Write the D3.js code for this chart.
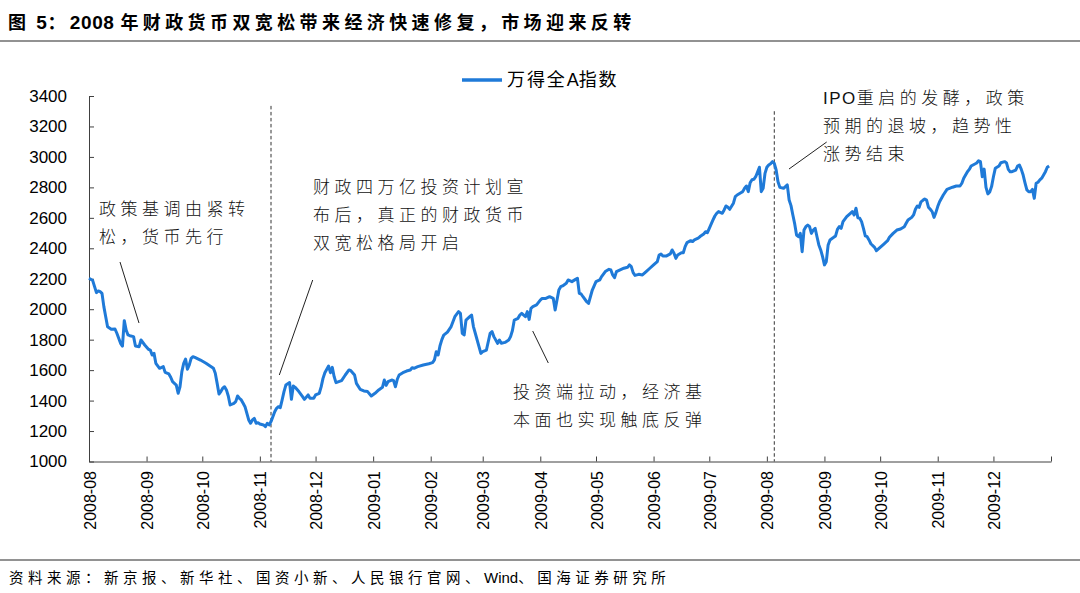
<!DOCTYPE html>
<html><head><meta charset="utf-8">
<script src="https://cdn.jsdelivr.net/npm/d3@7/dist/d3.min.js"></script>
<style>body{margin:0;background:#fff;} svg{display:block}</style>
</head><body>
<svg id="c" width="1080" height="593"></svg>
<script>
const titleText = "图 5：2008 年财政货币双宽松带来经济快速修复，市场迎来反转";
const sourceText = "资料来源：新京报、新华社、国资小新、人民银行官网、Wind、国海证券研究所";
const seriesName = "万得全A指数";
const yTicks = [1000,1200,1400,1600,1800,2000,2200,2400,2600,2800,3000,3200,3400];
const xTickLabels = ["2008-08","2008-09","2008-10","2008-11","2008-12","2009-01","2009-02","2009-03","2009-04","2009-05","2009-06","2009-07","2009-08","2009-09","2009-10","2009-11","2009-12"];
const eventDates = ["2008-11-07","2009-08-05"];
const notes = [
  ["政策基调由紧转","松，货币先行"],
  ["财政四万亿投资计划宣","布后，真正的财政货币","双宽松格局开启"],
  ["投资端拉动，经济基","本面也实现触底反弹"],
  ["IPO重启的发酵，政策","预期的退坡，趋势性","涨势结束"]
];
const dates = [
"2008-08-01","2008-08-03","2008-08-04","2008-08-05","2008-08-06","2008-08-07","2008-08-08","2008-08-09","2008-08-10","2008-08-11","2008-08-13","2008-08-15","2008-08-16","2008-08-18","2008-08-19","2008-08-20","2008-08-21","2008-08-22","2008-08-23","2008-08-25","2008-08-26","2008-08-28","2008-08-29","2008-08-31",
"2008-09-02","2008-09-03","2008-09-04","2008-09-05","2008-09-06","2008-09-08","2008-09-10","2008-09-11","2008-09-13","2008-09-14","2008-09-15","2008-09-17","2008-09-18","2008-09-19","2008-09-20","2008-09-21","2008-09-22","2008-09-23","2008-09-24","2008-09-25","2008-09-26","2008-09-27","2008-09-30",
"2008-10-03","2008-10-07","2008-10-08","2008-10-09","2008-10-10","2008-10-11","2008-10-12","2008-10-13","2008-10-14","2008-10-15","2008-10-16","2008-10-18","2008-10-19","2008-10-20","2008-10-21","2008-10-22","2008-10-23","2008-10-24","2008-10-26","2008-10-27","2008-10-28","2008-10-29","2008-10-30","2008-10-31",
"2008-11-01","2008-11-03","2008-11-04","2008-11-05","2008-11-06","2008-11-07","2008-11-08","2008-11-09","2008-11-10","2008-11-11","2008-11-12","2008-11-13","2008-11-14","2008-11-15","2008-11-17","2008-11-18","2008-11-19","2008-11-20","2008-11-22","2008-11-24","2008-11-25","2008-11-27","2008-11-28","2008-11-30",
"2008-12-01","2008-12-03","2008-12-04","2008-12-05","2008-12-06","2008-12-08","2008-12-09","2008-12-10","2008-12-11","2008-12-12","2008-12-15","2008-12-17","2008-12-19","2008-12-20","2008-12-22","2008-12-23","2008-12-25","2008-12-27","2008-12-29","2008-12-31",
"2009-01-02","2009-01-04","2009-01-06","2009-01-07","2009-01-08","2009-01-09","2009-01-11","2009-01-12","2009-01-13","2009-01-14","2009-01-15","2009-01-17","2009-01-19","2009-01-21","2009-01-22","2009-01-23","2009-01-25","2009-01-28","2009-01-31",
"2009-02-02","2009-02-03","2009-02-04","2009-02-05","2009-02-06","2009-02-07","2009-02-08","2009-02-10","2009-02-12","2009-02-14","2009-02-16","2009-02-17","2009-02-18","2009-02-19","2009-02-20","2009-02-22","2009-02-23","2009-02-24","2009-02-25","2009-02-27","2009-02-28",
"2009-03-01","2009-03-03","2009-03-05","2009-03-06","2009-03-07","2009-03-09","2009-03-10","2009-03-11","2009-03-13","2009-03-15","2009-03-16","2009-03-17","2009-03-18","2009-03-20","2009-03-21","2009-03-22","2009-03-24","2009-03-25","2009-03-26","2009-03-27","2009-03-28","2009-03-30",
"2009-04-01","2009-04-02","2009-04-04","2009-04-06","2009-04-08","2009-04-09","2009-04-10","2009-04-11","2009-04-12","2009-04-13","2009-04-15","2009-04-16","2009-04-18","2009-04-20","2009-04-21","2009-04-22","2009-04-23","2009-04-24","2009-04-26","2009-04-27","2009-04-29","2009-04-30",
"2009-05-01","2009-05-03","2009-05-04","2009-05-06","2009-05-08","2009-05-09","2009-05-10","2009-05-11","2009-05-12","2009-05-14","2009-05-16","2009-05-18","2009-05-19","2009-05-20","2009-05-21","2009-05-22","2009-05-24","2009-05-26","2009-05-28","2009-05-30",
"2009-06-01","2009-06-03","2009-06-04","2009-06-05","2009-06-06","2009-06-08","2009-06-10","2009-06-11","2009-06-12","2009-06-13","2009-06-14","2009-06-16","2009-06-17","2009-06-18","2009-06-19","2009-06-21","2009-06-22","2009-06-23","2009-06-25","2009-06-26","2009-06-28","2009-06-29","2009-06-30",
"2009-07-01","2009-07-03","2009-07-04","2009-07-05","2009-07-06","2009-07-08","2009-07-09","2009-07-10","2009-07-11","2009-07-12","2009-07-14","2009-07-15","2009-07-16","2009-07-18","2009-07-19","2009-07-20","2009-07-21","2009-07-22","2009-07-23","2009-07-24","2009-07-25","2009-07-26","2009-07-27","2009-07-28","2009-07-29","2009-07-30","2009-07-31",
"2009-08-01","2009-08-02","2009-08-03","2009-08-04","2009-08-05","2009-08-06","2009-08-07","2009-08-08","2009-08-10","2009-08-11","2009-08-12","2009-08-13","2009-08-14","2009-08-15","2009-08-16","2009-08-17","2009-08-18","2009-08-19","2009-08-20","2009-08-21","2009-08-22","2009-08-23","2009-08-24","2009-08-25","2009-08-26","2009-08-27","2009-08-28","2009-08-29","2009-08-30","2009-08-31",
"2009-09-01","2009-09-02","2009-09-03","2009-09-04","2009-09-06","2009-09-07","2009-09-08","2009-09-09","2009-09-10","2009-09-11","2009-09-13","2009-09-15","2009-09-16","2009-09-17","2009-09-18","2009-09-19","2009-09-20","2009-09-21","2009-09-22","2009-09-23","2009-09-24","2009-09-25","2009-09-26","2009-09-28","2009-09-29",
"2009-10-01","2009-10-03","2009-10-05","2009-10-06","2009-10-08","2009-10-10","2009-10-12","2009-10-14","2009-10-15","2009-10-16","2009-10-18","2009-10-19","2009-10-20","2009-10-21","2009-10-22","2009-10-23","2009-10-24","2009-10-25","2009-10-26","2009-10-27","2009-10-28","2009-10-29","2009-10-30","2009-10-31",
"2009-11-01","2009-11-02","2009-11-04","2009-11-06","2009-11-09","2009-11-11","2009-11-13","2009-11-14","2009-11-15","2009-11-17","2009-11-18","2009-11-19","2009-11-20","2009-11-22","2009-11-23","2009-11-24","2009-11-25","2009-11-26","2009-11-27","2009-11-28","2009-11-29","2009-11-30",
"2009-12-01","2009-12-02","2009-12-04","2009-12-05","2009-12-07","2009-12-08","2009-12-09","2009-12-10","2009-12-11","2009-12-13","2009-12-14","2009-12-15","2009-12-16","2009-12-17","2009-12-18","2009-12-19","2009-12-20","2009-12-21","2009-12-22","2009-12-23","2009-12-24","2009-12-25","2009-12-26","2009-12-27","2009-12-28","2009-12-29","2009-12-30","2009-12-31"
];
const values = [
2203,2188,2148,2109,2120,2115,2104,2017,1951,1885,1868,1870,1842,1776,1758,1925,1864,1831,1826,1820,1758,1754,1798,1765,
1737,1732,1699,1710,1645,1612,1623,1585,1575,1553,1524,1502,1448,1491,1590,1645,1673,1606,1634,1677,1688,1684,1666,
1645,1612,1579,1513,1443,1459,1481,1491,1470,1430,1371,1382,1393,1430,1415,1404,1382,1360,1273,1251,1273,1283,1251,1255,
1246,1240,1229,1251,1240,1262,1294,1327,1349,1360,1354,1404,1459,1502,1518,1408,1496,1487,1459,1426,1408,1437,1415,1415,
1437,1448,1490,1546,1583,1627,1583,1618,1557,1518,1531,1568,1601,1596,1568,1513,1474,1463,1459,1430,
1448,1470,1487,1535,1500,1524,1535,1531,1491,1540,1568,1583,1594,1601,1616,1612,1623,1634,1642,
1649,1667,1721,1699,1760,1800,1830,1850,1886,1951,1984,1973,1842,1831,1929,1951,1962,1886,1842,1754,1710,
1721,1732,1842,1853,1820,1776,1798,1776,1782,1798,1820,1860,1929,1940,1962,1973,1951,1984,1933,2006,2017,2028,
2060,2071,2071,2082,2071,1995,2060,2126,2148,2153,2170,2192,2181,2196,2203,2104,2100,2082,2049,2038,2126,2153,
2181,2192,2214,2247,2262,2258,2225,2207,2247,2258,2269,2275,2291,2280,2240,2222,2229,2225,2247,2269,
2291,2313,2356,2363,2350,2350,2363,2389,2367,2334,2356,2371,2371,2411,2437,2450,2444,2455,2466,2477,2494,2509,2503,
2531,2586,2612,2630,2641,2630,2652,2678,2669,2656,2696,2739,2750,2765,2772,2794,2809,2772,2830,2850,2853,2870,2900,2932,2772,2794,2892,
2932,2947,2955,2969,2958,2914,2837,2800,2794,2805,2816,2717,2680,2619,2560,2487,2476,2498,2378,2520,2542,2553,2542,2498,2520,2531,2476,2422,2389,2345,
2291,2312,2422,2455,2472,2481,2524,2542,2531,2575,2608,2630,2641,2619,2663,2600,2597,2575,2531,2481,2476,2455,2430,2406,2384,
2406,2428,2450,2472,2498,2520,2527,2542,2564,2586,2603,2619,2656,2678,2669,2705,2715,2724,2717,2670,2656,2641,2603,2634,
2674,2706,2750,2787,2801,2809,2809,2827,2860,2903,2918,2940,2947,2960,2975,2969,2870,2920,2800,2757,2770,2805,
2870,2925,2940,2962,2969,2962,2918,2903,2903,2914,2940,2947,2918,2881,2830,2783,2772,2772,2787,2728,2827,2834,2849,2860,2881,2903,2932,2940
];

const parse = d3.utcParse("%Y-%m-%d");
const parseM = d3.utcParse("%Y-%m");
const n = Math.min(dates.length, values.length);
const data = d3.range(n).map(i => ({date: parse(dates[i]), v: values[i]}));

const svg = d3.select("#c");
const W = 1080, H = 593;
const x = d3.scaleUtc().domain([parseM("2008-08"), parseM("2010-01")]).range([89, 1051]);
const y = d3.scaleLinear().domain([1000, 3400]).range([461.5, 96]);

const CJK = "'Noto Sans CJK SC','Noto Sans',sans-serif";
const LAT = "'Liberation Sans',Arial,sans-serif";
const blue = "#1f7ad8";
const axisColor = "#404040";

// mixed-script text: CJK runs get letter spacing, Latin runs do not
function mixedText(parent, str, o) {
  const t = parent.append("text").attr("x", o.x).attr("y", o.y)
    .attr("fill", o.fill || "#000").attr("font-weight", o.weight || 400);
  if (o.dy) t.attr("dy", o.dy);
  const runs = str.match(/[\x00-\x7F]+|[^\x00-\x7F]+/g) || [];
  runs.forEach(r => {
    const latin = /^[\x00-\x7F]+$/.test(r);
    t.append("tspan")
      .attr("font-family", latin ? LAT : CJK)
      .attr("font-size", latin ? o.latinSize : o.size)
      .attr("letter-spacing", latin ? (o.latinSpacing || 0) : o.spacing)
      .text(r);
  });
  return t;
}

// title
mixedText(svg, titleText, {x: 8, y: 29, size: 18, latinSize: 19, spacing: 4.4, latinSpacing: 0.6, weight: 700});
svg.append("line").attr("x1", 0).attr("x2", W).attr("y1", 41).attr("y2", 41)
  .attr("stroke", "#6e6e6e").attr("stroke-width", 1.5);

// source
svg.append("line").attr("x1", 0).attr("x2", W).attr("y1", 560).attr("y2", 560)
  .attr("stroke", "#6e6e6e").attr("stroke-width", 1.5);
mixedText(svg, sourceText, {x: 9, y: 583, size: 14.5, latinSize: 15, spacing: 4.5});

// y axis
const yAxis = d3.axisLeft(y).tickValues(yTicks).tickSizeInner(-5).tickSizeOuter(0).tickPadding(22).tickFormat(d3.format("d"));
const gy = svg.append("g").attr("transform", "translate(89,0)").call(yAxis);
gy.selectAll("path,line").attr("stroke", axisColor).attr("stroke-width", 1);
gy.selectAll("text").attr("font-family", LAT).attr("font-size", 17).attr("fill", "#000");

// x axis
const monthTicks = d3.utcMonth.range(parseM("2008-08"), d3.utcMonth.offset(parseM("2010-01"), 1));
const xAxis = d3.axisBottom(x).tickValues(monthTicks).tickSizeInner(-5).tickSizeOuter(0).tickFormat("");
const gx = svg.append("g").attr("transform", "translate(0,461.5)").call(xAxis);
gx.selectAll("path,line").attr("stroke", axisColor).attr("stroke-width", 1);
svg.append("g").selectAll("text").data(xTickLabels).join("text")
  .attr("transform", d => `translate(${x(parseM(d)) + 1},471) rotate(-90)`)
  .attr("text-anchor", "end").attr("dy", "0.35em")
  .attr("font-family", LAT).attr("font-size", 16).attr("fill", "#000")
  .text(d => d);

// event dashed lines
svg.append("g").selectAll("line").data(eventDates).join("line")
  .attr("x1", d => x(parse(d))).attr("x2", d => x(parse(d)))
  .attr("y1", (d, i) => i === 0 ? y(3335) : y(3300)).attr("y2", y(1000))
  .attr("stroke", "#333").attr("stroke-width", 1).attr("stroke-dasharray", "3.5,2.5");

// series line
svg.append("path").datum(data)
  .attr("d", d3.line().x(d => x(d.date)).y(d => y(d.v)))
  .attr("fill", "none").attr("stroke", blue).attr("stroke-width", 3)
  .attr("stroke-linejoin", "round");

// legend
svg.append("line").attr("x1", 462).attr("x2", 502).attr("y1", 80).attr("y2", 80)
  .attr("stroke", blue).attr("stroke-width", 3.5);
mixedText(svg, seriesName, {x: 507, y: 80, dy: "0.35em", size: 18, latinSize: 18, spacing: 1.9});

// annotations
const notePos = [[99, 209], [313, 187], [513, 392], [823, 98]];
notes.forEach((lines, k) => {
  lines.forEach((s, j) => {
    mixedText(svg, s, {x: notePos[k][0], y: notePos[k][1] + j * 28.3, dy: "0.35em",
      size: 17, latinSize: 17, spacing: 4.5, latinSpacing: 1.5, weight: 300, fill: "#111"});
  });
});
const pointers = [[120,262,139,323],[312.7,280,279.3,375],[532.7,331,548.3,363],[826.7,142,789,169]];
svg.append("g").selectAll("line").data(pointers).join("line")
  .attr("x1", d => d[0]).attr("y1", d => d[1]).attr("x2", d => d[2]).attr("y2", d => d[3])
  .attr("stroke", "#222").attr("stroke-width", 1);
</script>
</body></html>
